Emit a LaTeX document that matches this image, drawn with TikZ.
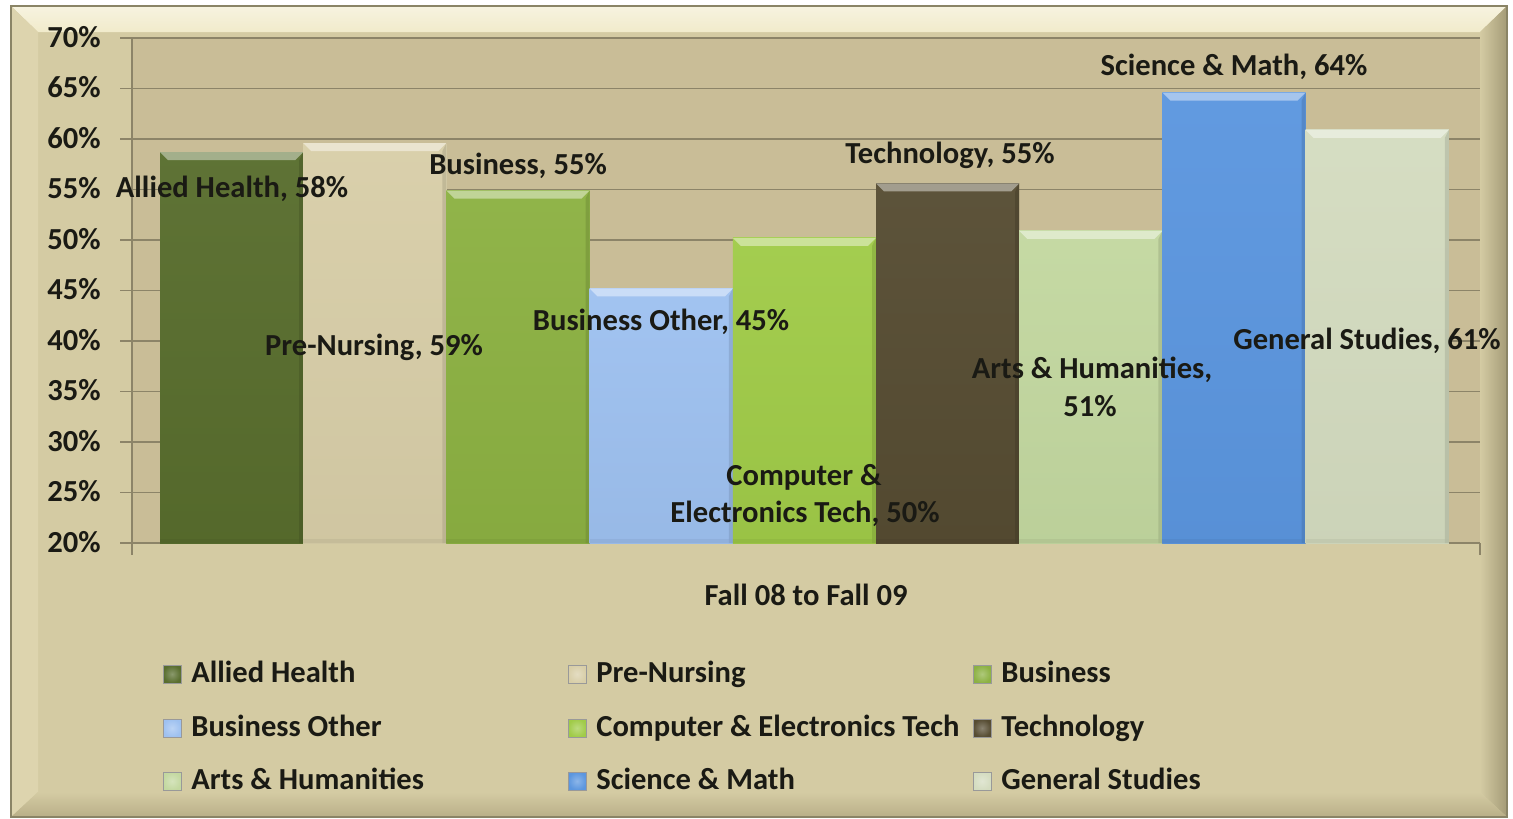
\documentclass[tikz,border=0pt]{standalone}
\usepackage{fontspec}
\setmainfont{Carlito}
\usetikzlibrary{calc,positioning}
\definecolor{facec}{HTML}{D4CBA3}
\definecolor{plotc}{HTML}{C9BD97}
\definecolor{bevtop}{HTML}{F1EBCB}
\definecolor{bevleft}{HTML}{DDD4AE}
\definecolor{bevright}{HTML}{A49B77}
\definecolor{bevbot}{HTML}{B9AF88}
\definecolor{edgec}{HTML}{8A8466}
\definecolor{gridc}{HTML}{8C8468}
\definecolor{txtc}{HTML}{1A1A14}
\definecolor{alliedc}{HTML}{586D2D}
\definecolor{prenursc}{HTML}{D8CEA8}
\definecolor{busc}{HTML}{8CB142}
\definecolor{busothc}{HTML}{9EC1F0}
\definecolor{compc}{HTML}{A0CB48}
\definecolor{techc}{HTML}{564C32}
\definecolor{artsc}{HTML}{C3D8A0}
\definecolor{scic}{HTML}{5B96DF}
\definecolor{genc}{HTML}{D4DCC0}

\begin{document}
\begin{tikzpicture}[x=0.02cm, y=-0.02cm,
    every node/.style={inner sep=0pt, text=txtc, font=\bfseries\fontsize{17.4}{20}\selectfont},
    gridline/.style={draw=gridc, line width=0.8pt},
    barlabel/.style={anchor=base},
    swatch/.style={draw=black!40, line width=0.3pt}]
  \useasboundingbox (0,0) rectangle (1513,818);
  \fill[white] (0,0) rectangle (1513,818);
  % bevelled chart frame
  \fill[facec] (11,6) rectangle (1507,817);
  \shade[top color=bevtop!60!white, bottom color=bevtop] (11,6) -- (1507,6) -- (1480,32) -- (38,32) -- cycle;
  \fill[bevleft] (11,6) -- (38,32) -- (38,792) -- (11,817) -- cycle;
  \shade[left color=facec, right color=bevright] (1507,6) -- (1507,817) -- (1480,792) -- (1480,32) -- cycle;
  \shade[top color=facec, bottom color=bevbot] (11,817) -- (38,792) -- (1480,792) -- (1507,817) -- cycle;
  \draw[edgec, line width=1pt] (11,6) rectangle (1507,817);
  % plot area and grid
  \fill[plotc] (132,38) rectangle (1480,543);
  \foreach \p [count=\k from 0] in {70,65,...,20}{
    \draw[gridline] (120,38+50.5*\k) -- (1480,38+50.5*\k);
    \node[anchor=base east] (y\p) at (101,47+50.5*\k) {\p\%};
  }
  \draw[gridline] (132,38) -- (132,555);
  \draw[gridline] (1480,543) -- (1480,555);
  % bars
  \foreach \val/\col/\nm [count=\i from 0] in {58.7/alliedc/ah, 59.6/prenursc/pn, 54.9/busc/bu,
      45.2/busothc/bo, 50.2/compc/ce, 55.6/techc/te, 50.9/artsc/ar, 64.6/scic/sm, 60.9/genc/gs}{
    \pgfmathsetmacro{\xl}{160+143.2*\i}
    \pgfmathsetmacro{\xr}{\xl+143.2}
    \pgfmathsetmacro{\yt}{543-(\val-20)*10.1}
    \shade[top color=\col!96!white, bottom color=\col!96!black] (\xl,\yt) rectangle (\xr,543);
    \fill[\col!55!white] (\xl,\yt) -- (\xr,\yt) -- (\xr-8,\yt+8) -- (\xl+8,\yt+8) -- cycle;
    \fill[\col!70!black, opacity=.35] (\xr,\yt) -- (\xr,543) -- (\xr-4,543) -- (\xr-4,\yt+8) -- cycle;
    \fill[\col!85!black, opacity=.4] (\xl,539) rectangle (\xr,543);
    \coordinate (\nm) at ({(\xl+\xr)/2},\yt);
  }
  % data labels
  \node[barlabel] (ahlab) at (232,197) {Allied Health, 58\%};
  \node[barlabel] (pnlab) at (374,355) {Pre-Nursing, 59\%};
  \node[barlabel] (bulab) at (518,174) {Business, 55\%};
  \node[barlabel] (bolab) at (661,330) {Business Other, 45\%};
  \node[barlabel] (celabA) at (804,485) {Computer \&};
  \node[barlabel] (celabB) at (805,522) {Electronics Tech, 50\%};
  \node[barlabel] (telab) at (950,163) {Technology, 55\%};
  \node[barlabel] (arlabA) at (1092,378) {Arts \& Humanities,};
  \node[barlabel] (arlabB) at (1090,416) {51\%};
  \node[barlabel] (smlab) at (1234,75) {Science \& Math, 64\%};
  \node[barlabel] (gslab) at (1367,349) {General Studies, 61\%};
  \node[barlabel] (xtitle) at (806,605) {Fall 08 to Fall 09};
  % legend
  \foreach \lab/\col/\cx/\ry/\nm in {Allied Health/alliedc/163/665/lah, Pre-Nursing/prenursc/568/665/lpn,
      Business/busc/973/665/lbu, Business Other/busothc/163/719/lbo,
      Computer \& Electronics Tech/compc/568/719/lce, Technology/techc/973/719/lte,
      Arts \& Humanities/artsc/163/772/lar, Science \& Math/scic/568/772/lsm,
      General Studies/genc/973/772/lgs}{
    \shade[swatch, inner color=\col!70!white, outer color=\col] (\cx,\ry) rectangle ++(18,18);
    \node[anchor=base west] (\nm) at (\cx+28,\ry+17) {\lab};
  }
\end{tikzpicture}
\end{document}
